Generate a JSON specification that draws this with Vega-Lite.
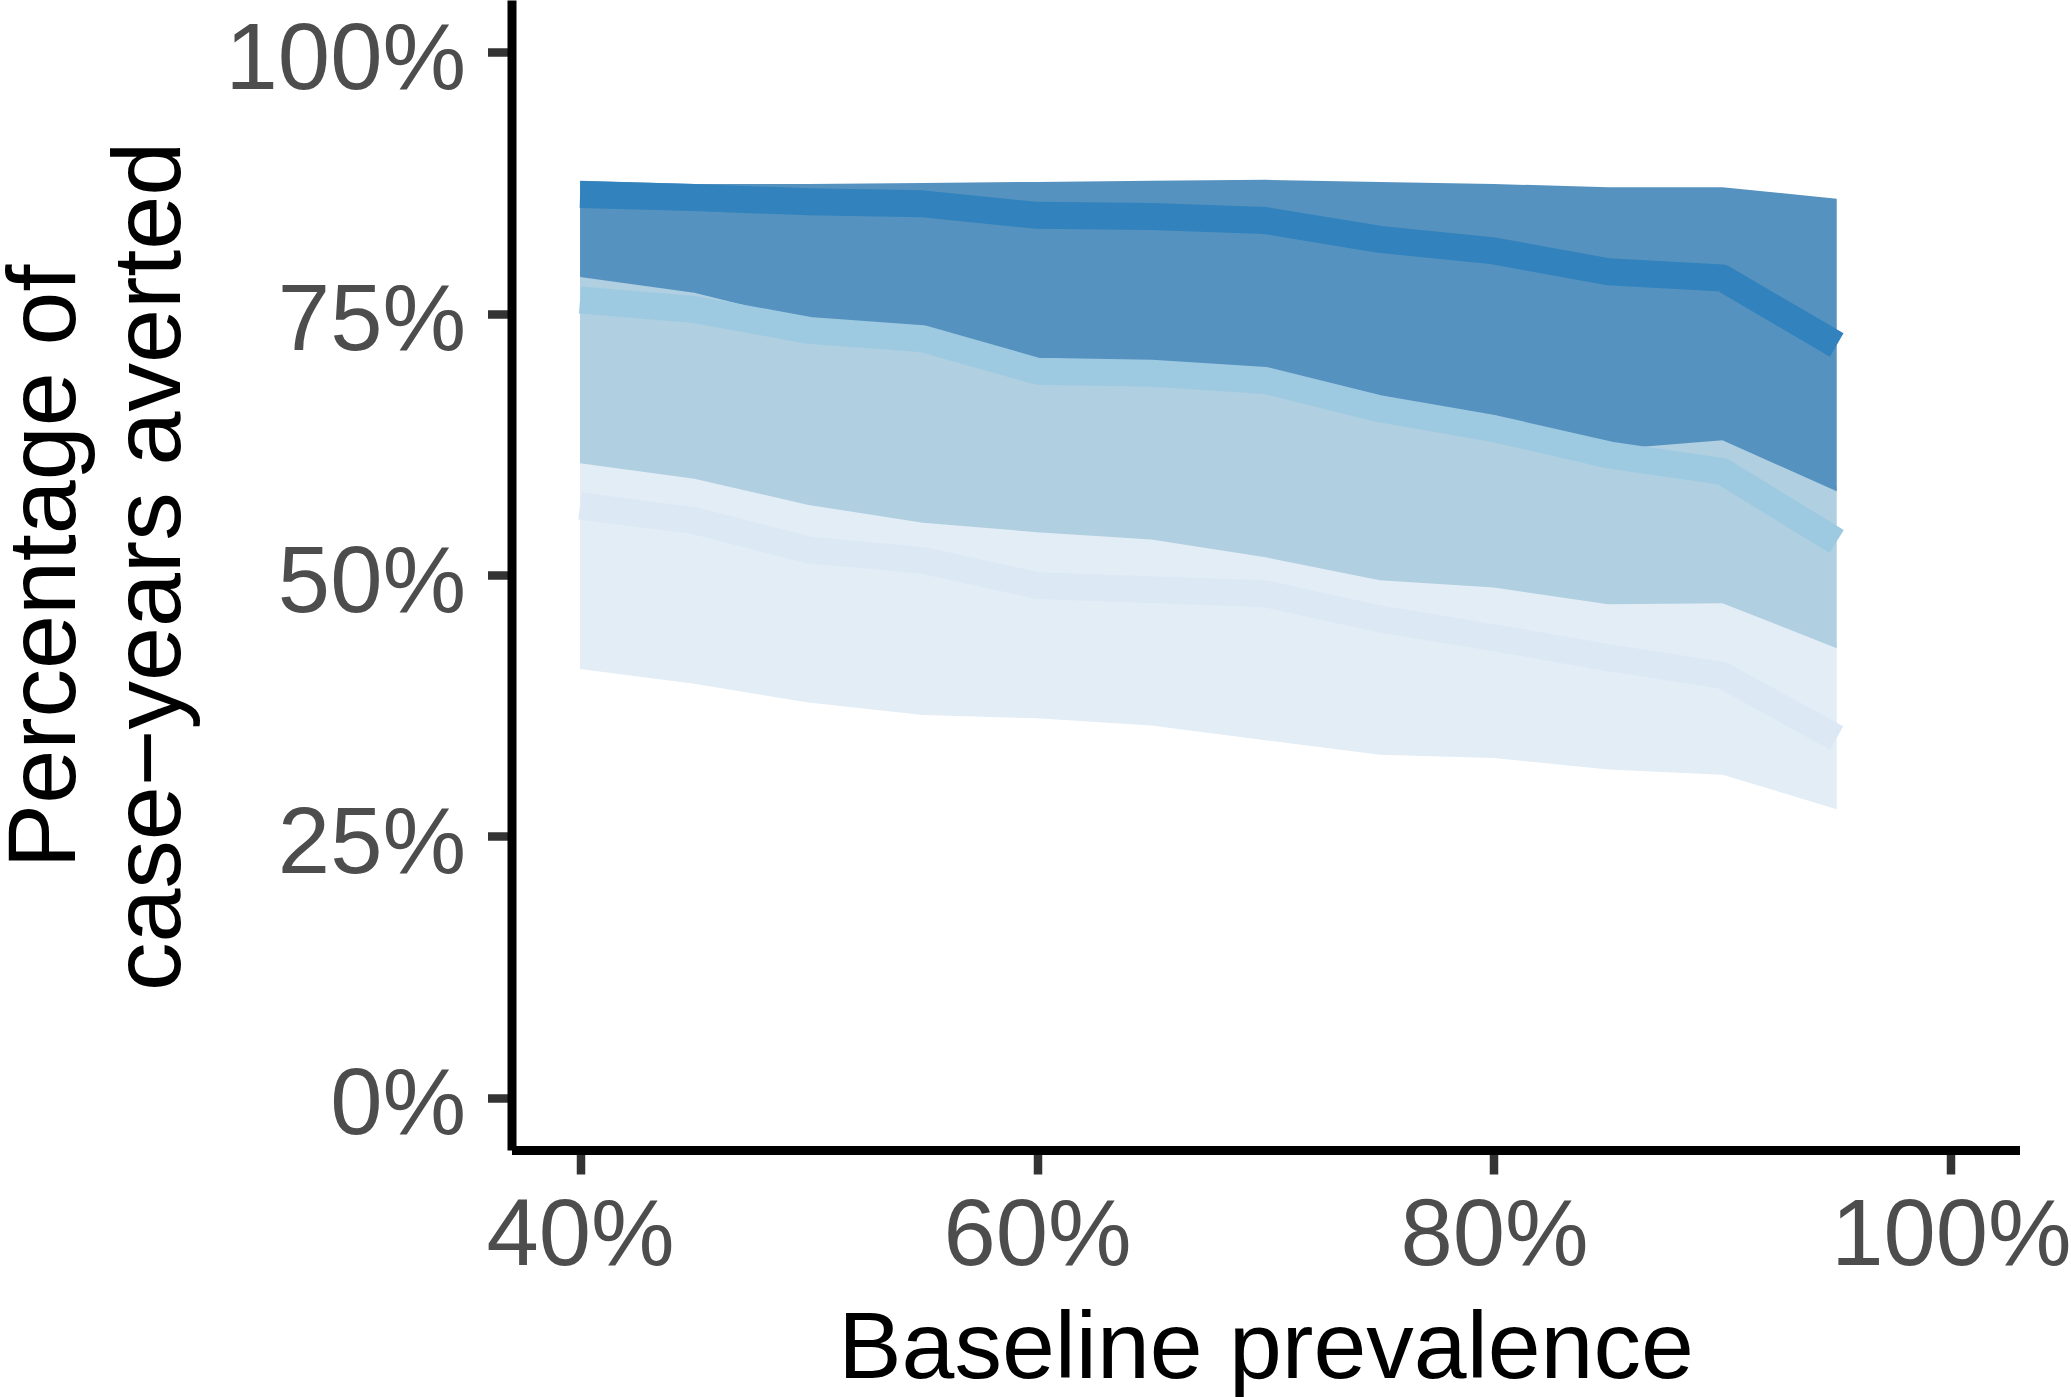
{
  "$schema": "https://vega.github.io/schema/vega-lite/v6.json",
  "autosize": {"type": "none"},
  "width": 1508,
  "height": 1150,
  "padding": {"left": 511.5, "top": 0, "right": 51.5, "bottom": 247},
  "background": "white",
  "config": {
    "view": {"stroke": null},
    "font": "Liberation Sans",
    "axis": {
      "grid": false,
      "domainColor": "black",
      "domainWidth": 9,
      "tickColor": "#333333",
      "tickWidth": 8.5,
      "tickSize": 24,
      "labelColor": "#4d4d4d",
      "labelFont": "Liberation Sans",
      "labelFontSize": 94,
      "labelLimit": 0,
      "labelOverlap": false,
      "labelFlush": false,
      "titleFont": "Liberation Sans",
      "titleFontSize": 95,
      "titleFontWeight": "normal",
      "titleColor": "black",
      "titleLimit": 0
    }
  },
  "data": {
    "values": [
      {"prevalence": 40, "series": "low", "lower": 41.0, "median": 56.6, "upper": 61.2},
      {"prevalence": 45, "series": "low", "lower": 39.6, "median": 55.2, "upper": 59.7},
      {"prevalence": 50, "series": "low", "lower": 37.8, "median": 52.4, "upper": 57.2},
      {"prevalence": 55, "series": "low", "lower": 36.6, "median": 51.4, "upper": 55.5},
      {"prevalence": 60, "series": "low", "lower": 36.3, "median": 49.0, "upper": 54.6},
      {"prevalence": 65, "series": "low", "lower": 35.6, "median": 48.6, "upper": 53.9},
      {"prevalence": 70, "series": "low", "lower": 34.2, "median": 48.2, "upper": 52.2},
      {"prevalence": 75, "series": "low", "lower": 32.8, "median": 45.8, "upper": 50.0},
      {"prevalence": 80, "series": "low", "lower": 32.5, "median": 44.0, "upper": 49.3},
      {"prevalence": 85, "series": "low", "lower": 31.4, "median": 42.1, "upper": 47.7},
      {"prevalence": 90, "series": "low", "lower": 30.9, "median": 40.4, "upper": 47.8},
      {"prevalence": 95, "series": "low", "lower": 27.6, "median": 34.4, "upper": 43.5},
      {"prevalence": 40, "series": "mid", "lower": 60.7, "median": 76.3, "upper": 79.0},
      {"prevalence": 45, "series": "mid", "lower": 59.2, "median": 75.4, "upper": 77.5},
      {"prevalence": 50, "series": "mid", "lower": 56.7, "median": 73.4, "upper": 75.0},
      {"prevalence": 55, "series": "mid", "lower": 55.0, "median": 72.6, "upper": 74.3},
      {"prevalence": 60, "series": "mid", "lower": 54.1, "median": 69.5, "upper": 71.4},
      {"prevalence": 65, "series": "mid", "lower": 53.4, "median": 69.3, "upper": 71.0},
      {"prevalence": 70, "series": "mid", "lower": 51.7, "median": 68.6, "upper": 70.4},
      {"prevalence": 75, "series": "mid", "lower": 49.5, "median": 65.9, "upper": 67.8},
      {"prevalence": 80, "series": "mid", "lower": 48.8, "median": 64.0, "upper": 65.6},
      {"prevalence": 85, "series": "mid", "lower": 47.2, "median": 61.5, "upper": 63.5},
      {"prevalence": 90, "series": "mid", "lower": 47.3, "median": 59.9, "upper": 63.4},
      {"prevalence": 95, "series": "mid", "lower": 43.0, "median": 53.2, "upper": 58.5},
      {"prevalence": 40, "series": "high", "lower": 78.5, "median": 86.4, "upper": 87.7},
      {"prevalence": 45, "series": "high", "lower": 77.0, "median": 86.1, "upper": 87.4},
      {"prevalence": 50, "series": "high", "lower": 74.3, "median": 85.7, "upper": 87.4},
      {"prevalence": 55, "series": "high", "lower": 73.7, "median": 85.5, "upper": 87.5},
      {"prevalence": 60, "series": "high", "lower": 70.7, "median": 84.4, "upper": 87.6},
      {"prevalence": 65, "series": "high", "lower": 70.4, "median": 84.3, "upper": 87.7},
      {"prevalence": 70, "series": "high", "lower": 69.8, "median": 83.9, "upper": 87.8},
      {"prevalence": 75, "series": "high", "lower": 67.1, "median": 82.1, "upper": 87.6},
      {"prevalence": 80, "series": "high", "lower": 64.9, "median": 81.0, "upper": 87.4},
      {"prevalence": 85, "series": "high", "lower": 62.0, "median": 79.0, "upper": 87.1},
      {"prevalence": 90, "series": "high", "lower": 62.9, "median": 78.4, "upper": 87.1},
      {"prevalence": 95, "series": "high", "lower": 58.0, "median": 72.0, "upper": 86.0}
    ]
  },
  "encoding": {
    "x": {
      "field": "prevalence",
      "type": "quantitative",
      "scale": {"domain": [37, 103], "nice": false, "zero": false},
      "axis": {
        "values": [40, 60, 80, 100],
        "labelExpr": "datum.value + '%'",
        "labelPadding": 16,
        "title": "Baseline prevalence",
        "titleBaseline": "alphabetic",
        "titleY": 227
      }
    },
    "y": {
      "field": "median",
      "type": "quantitative",
      "scale": {"domain": [-5, 105], "nice": false, "zero": false},
      "axis": {
        "values": [0, 25, 50, 75, 100],
        "labelExpr": "datum.value + '%'",
        "labelPadding": 22,
        "labelOffset": 8,
        "title": ["Percentage of", "case−years averted"],
        "titleFontSize": 97,
        "titleBaseline": "alphabetic",
        "titleLineHeight": 105,
        "titleX": -437,
        "titleY": 566
      }
    }
  },
  "layer": [
    {
      "transform": [{"filter": "datum.series === 'low'"}],
      "mark": {"type": "area", "color": "#e3edf6"},
      "encoding": {
        "y": {"field": "lower", "type": "quantitative", "scale": {"domain": [-5, 105], "nice": false, "zero": false}},
        "y2": {"field": "upper"}
      }
    },
    {
      "transform": [{"filter": "datum.series === 'mid'"}],
      "mark": {"type": "area", "color": "#b0cfe1"},
      "encoding": {
        "y": {"field": "lower", "type": "quantitative", "scale": {"domain": [-5, 105], "nice": false, "zero": false}},
        "y2": {"field": "upper"}
      }
    },
    {
      "transform": [{"filter": "datum.series === 'high'"}],
      "mark": {"type": "area", "color": "#5592bf"},
      "encoding": {
        "y": {"field": "lower", "type": "quantitative", "scale": {"domain": [-5, 105], "nice": false, "zero": false}},
        "y2": {"field": "upper"}
      }
    },
    {
      "transform": [{"filter": "datum.series === 'low'"}],
      "mark": {"type": "line", "color": "#dce9f5", "strokeWidth": 27, "strokeCap": "butt", "strokeJoin": "round"}
    },
    {
      "transform": [{"filter": "datum.series === 'mid'"}],
      "mark": {"type": "line", "color": "#9ecae1", "strokeWidth": 27, "strokeCap": "butt", "strokeJoin": "round"}
    },
    {
      "transform": [{"filter": "datum.series === 'high'"}],
      "mark": {"type": "line", "color": "#3182bd", "strokeWidth": 27, "strokeCap": "butt", "strokeJoin": "round"}
    }
  ]
}
